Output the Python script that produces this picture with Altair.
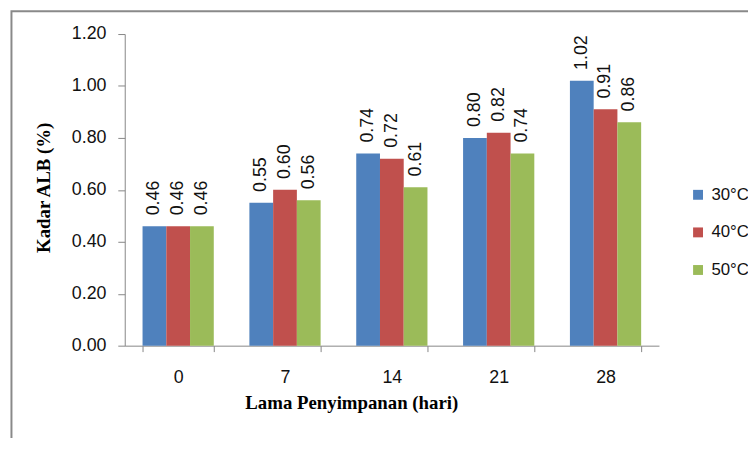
import altair as alt
import pandas as pd

days = ["0", "7", "14", "21", "28"]
series = ["30°C", "40°C", "50°C"]
v30 = [0.46, 0.55, 0.74, 0.80, 1.02]
v40 = [0.46, 0.60, 0.72, 0.82, 0.91]
v50 = [0.46, 0.56, 0.61, 0.74, 0.86]
colors = ["#4F81BD", "#C0504D", "#9BBB59"]
y_ticks = [0.0, 0.2, 0.4, 0.6, 0.8, 1.0, 1.2]

rows = []
for s, vals in zip(series, [v30, v40, v50]):
    for d, v in zip(days, vals):
        rows.append({"day": d, "series": s, "value": v})
df = pd.DataFrame(rows)

W, H = 540, 315

x = alt.X("day:N", sort=days, title="Lama Penyimpanan (hari)",
          scale=alt.Scale(paddingInner=1/3, paddingOuter=1/6),
          axis=alt.Axis(labelAngle=0, labelFont="Liberation Sans", labelFontSize=18,
                        labelColor="#111", labelPadding=17, tickSize=6,
                        tickBand="extent", domainColor="#868686", tickColor="#868686",
                        titleFont="Liberation Serif", titleFontSize=19, titleFontWeight="bold",
                        titleColor="#000", titleX=229, titleY=58, titleAnchor="start",
                        titleAlign="center", titleBaseline="middle"))
xo = alt.XOffset("series:N", sort=series, scale=alt.Scale(paddingInner=0, paddingOuter=0))
y = alt.Y("value:Q", title="Kadar ALB (%)",
          scale=alt.Scale(domain=[0, 1.2], nice=False),
          axis=alt.Axis(values=y_ticks, format=".2f", grid=False,
                        labelFont="Liberation Sans", labelFontSize=18, labelColor="#111",
                        labelPadding=12, tickSize=7, domainColor="#868686", tickColor="#868686",
                        titleFont="Liberation Serif", titleFontSize=19, titleFontWeight="bold",
                        titleColor="#000", titleX=-82, titleY=155, titleAngle=270,
                        titleAlign="center", titleBaseline="middle", titleAnchor="start"))

color = alt.Color("series:N", sort=series, title=None,
                  scale=alt.Scale(domain=series, range=colors),
                  legend=alt.Legend(orient="none", legendX=571, legendY=154,
                                    symbolType="square", symbolSize=100, symbolStrokeWidth=0,
                                    labelFont="Liberation Sans", labelFontSize=17,
                                    labelColor="#111", labelOffset=5, rowPadding=20,
                                    padding=0))

frame = alt.Chart(alt.Data(values=[{"a": 1}])).mark_rect(
    fill=None, fillOpacity=0, stroke="#898989", strokeWidth=2
).encode(x=alt.value(-114.5), y=alt.value(-23), x2=alt.value(800), y2=alt.value(600))

bars = alt.Chart(df).mark_bar(size=24).encode(x=x, xOffset=xo, y=y, color=color)

labels = alt.Chart(df).mark_text(
    angle=270, align="left", baseline="middle", dx=11,
    font="Liberation Sans", fontSize=18, color="#111"
).encode(x=alt.X("day:N", sort=days), xOffset=xo, y="value:Q",
         text=alt.Text("value:Q", format=".2f"))

chart = alt.layer(frame, bars, labels).properties(
    width=W, height=H,
    autosize=alt.AutoSizeParams(type="none"),
    padding={"left": 118, "top": 24, "right": 90, "bottom": 91},
).configure_view(stroke=None)

chart.save("out.html", embed_options={"renderer": "svg", "actions": False})
